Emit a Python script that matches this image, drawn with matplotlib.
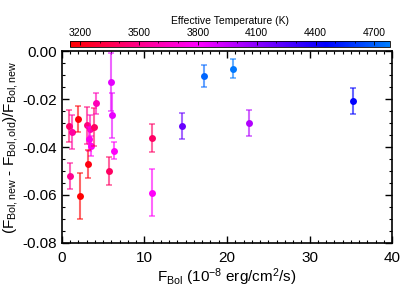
import numpy as np
import matplotlib
matplotlib.use("Agg")
import matplotlib.pyplot as plt
from matplotlib.colors import LinearSegmentedColormap, Normalize, hsv_to_rgb
from matplotlib.ticker import MultipleLocator

plt.rcParams['font.family'] = ['Liberation Sans', 'DejaVu Sans']
plt.rcParams['mathtext.fontset'] = 'custom'
plt.rcParams['mathtext.rm'] = 'Liberation Sans'
plt.rcParams['mathtext.it'] = 'Liberation Sans'

# bolometric flux (1e-8 erg/cm2/s)
fbol = [0.85, 1.25, 1.9, 0.93, 2.14, 3.07, 3.35, 3.27, 3.5, 3.2, 3.9, 4.16,
        6.0, 6.06, 6.3, 5.7, 10.87, 10.95, 14.5, 17.2, 20.7, 22.7, 35.2]
# fractional change
dfrac = [-0.0313, -0.0338, -0.0283, -0.0520, -0.0605, -0.0310, -0.0326, -0.0367,
         -0.0396, -0.0470, -0.0317, -0.0218, -0.0130, -0.0267, -0.0415, -0.0500,
         -0.0362, -0.0590, -0.0313, -0.0103, -0.0074, -0.0300, -0.0210]
derr = [0.0066, 0.0070, 0.0055, 0.0055, 0.0095, 0.0077, 0.0060, 0.0050,
        0.0040, 0.0058, 0.0080, 0.0044, 0.0120, 0.0094, 0.0037, 0.0057,
        0.0060, 0.0098, 0.0055, 0.0045, 0.0040, 0.0054, 0.0054]
# effective temperature (K)
teff = [3420, 3560, 3180, 3520, 3160, 3470, 3620, 3760, 3780, 3200, 3400, 3620,
        3870, 3860, 3790, 3400, 3410, 3790, 4190, 4710, 4760, 4000, 4450]

tmin, tmax = 3150, 4780

# red -> magenta -> blue -> light blue (hue 360 down to 210)
hues = np.linspace(1.0, 210 / 360, 256)
cmap = LinearSegmentedColormap.from_list(
    'teff', hsv_to_rgb(np.column_stack([hues, np.ones(256), np.ones(256)])))
norm = Normalize(tmin, tmax)

fig = plt.figure(figsize=(4.15, 2.97), dpi=100)
ax = fig.add_axes([0.149, 0.182, 0.796, 0.646])

for x, y, e, t in zip(fbol, dfrac, derr, teff):
    c = cmap(norm(t))
    ax.errorbar(x, y, yerr=e, fmt='none', ecolor=c, alpha=0.6,
                elinewidth=1.5, capsize=2.2, capthick=1.2)
    ax.plot(x, y, 'o', color=c, ms=5, mec='none')

ax.set_xlim(0, 40)
ax.set_ylim(-0.08, 0.0)
ax.xaxis.set_major_locator(MultipleLocator(10))
ax.xaxis.set_minor_locator(MultipleLocator(1))
ax.yaxis.set_major_locator(MultipleLocator(0.02))
ax.yaxis.set_minor_locator(MultipleLocator(0.005))
ax.yaxis.set_major_formatter(plt.FormatStrFormatter('%.2f'))
ax.tick_params(which='both', direction='in', top=True, right=True, labelsize=11)
ax.tick_params(which='major', length=5, width=1)
ax.tick_params(which='minor', length=2.5, width=0.8)
ax.tick_params(axis='x', pad=6)
for s in ax.spines.values():
    s.set_linewidth(1.2)

ax.set_xlabel(r'F$_\mathrm{Bol}$ (10$^{-8}$ erg/cm$^{2}$/s)', fontsize=11, labelpad=1)
ax.set_ylabel(r'(F$_\mathrm{Bol,new}$ - F$_\mathrm{Bol,old}$)/F$_\mathrm{Bol,new}$',
              fontsize=11, labelpad=2)

cax = fig.add_axes([0.169, 0.842, 0.771, 0.02])
sm = plt.cm.ScalarMappable(norm=norm, cmap=cmap)
cb = fig.colorbar(sm, cax=cax, orientation='horizontal')
cb.set_ticks([3200, 3500, 3800, 4100, 4400, 4700])
cax.xaxis.set_minor_locator(MultipleLocator(100))
cax.xaxis.set_ticks_position('top')
cax.xaxis.set_label_position('top')
cax.tick_params(which='both', direction='in', labelsize=7.5, pad=2)
cax.tick_params(which='major', length=3, width=0.6)
cax.tick_params(which='minor', length=1.5, width=0.5)
cb.outline.set_linewidth(0.6)
cb.set_label('Effective Temperature (K)', fontsize=7.5, labelpad=3)

fig.savefig('out.png', dpi=100)
